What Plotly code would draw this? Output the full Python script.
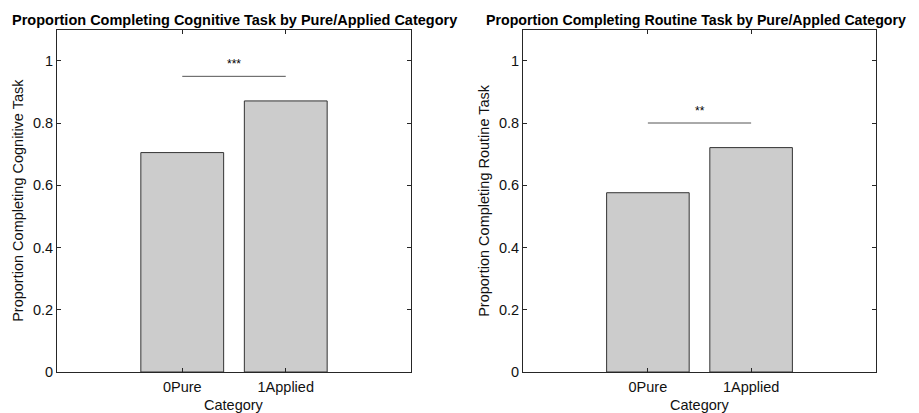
import plotly.graph_objects as go

categories = ["0Pure", "1Applied"]
cognitive = [0.705, 0.871]
routine = [0.576, 0.721]
sig_cog = "***"
sig_rout = "**"
sig_y_cog = 0.95
sig_y_rout = 0.80
yticks = [0, 0.2, 0.4, 0.6, 0.8, 1.0]
yticklabels = ["0", "0.2", "0.4", "0.6", "0.8", "1"]

FONT = "Liberation Sans, Arial, Helvetica, sans-serif"
AX = "#262626"
FS = 14.5
# page body keeps its default 8px margin; the capture is slightly taller than the window
OFF = 8
SY = 421 / 413
W, H = 919 - OFF, 413


def px(x):
    return (x - OFF) / W


def py(y):
    return 1 - (y * SY - OFF) / H


fig = go.Figure()
for i, vals in enumerate([cognitive, routine]):
    fig.add_trace(go.Bar(
        x=categories, y=vals, width=0.8,
        marker=dict(color="#cccccc", line=dict(color="#333333", width=1)),
        xaxis="x" if i == 0 else "x2", yaxis="y" if i == 0 else "y2",
        showlegend=False, hoverinfo="skip"))

xd = [[px(57), px(411)], [px(523), px(876)]]
yd = [py(372), py(29.5)]

common_x = dict(type="category", range=[-1.21, 2.21], showline=True, mirror="ticks",
                linecolor=AX, linewidth=1, ticks="inside", ticklen=4, tickcolor=AX,
                showgrid=False, zeroline=False, tickfont=dict(family=FONT, size=FS, color="#111"),
                ticklabelstandoff=2,
                categoryorder="array", categoryarray=categories)
common_y = dict(range=[0, 1.1], showline=True, mirror="ticks", linecolor=AX, linewidth=1,
                ticks="inside", ticklen=4, tickcolor=AX, showgrid=False, zeroline=False,
                tickvals=yticks, ticktext=yticklabels,
                tickfont=dict(family=FONT, size=FS, color="#111"))

fig.update_layout(
    width=W, height=H, margin=dict(l=0, r=0, t=0, b=0),
    paper_bgcolor="white", plot_bgcolor="white",
    xaxis=dict(domain=xd[0], anchor="y", **common_x),
    yaxis=dict(domain=yd, anchor="x", **common_y),
    xaxis2=dict(domain=xd[1], anchor="y2", **common_x),
    yaxis2=dict(domain=yd, anchor="x2", **common_y),
    bargap=0.2,
)

titles = ["Proportion Completing Cognitive Task by Pure/Applied Category",
          "Proportion Completing Routine Task by Pure/Appled Category"]
title_x = [px(234), px(696)]
title_fs = [FS, 14.2]
ytitles = ["Proportion Completing Cognitive Task", "Proportion Completing Routine Task"]
ytx = [px(18), px(484)]
ann = []
for i in range(2):
    cx = (xd[i][0] + xd[i][1]) / 2
    ann.append(dict(text="<b>" + titles[i] + "</b>", x=title_x[i], y=py(19.5), xref="paper",
                    yref="paper", showarrow=False,
                    font=dict(family=FONT, size=title_fs[i], color="black"),
                    xanchor="center", yanchor="middle"))
    ann.append(dict(text=ytitles[i], x=ytx[i], y=(yd[0] + yd[1]) / 2, xref="paper", yref="paper",
                    textangle=-90, showarrow=False, font=dict(family=FONT, size=FS, color="#111"),
                    xanchor="center", yanchor="middle"))
    ann.append(dict(text="Category", x=cx, y=py(405), xref="paper", yref="paper",
                    showarrow=False, font=dict(family=FONT, size=FS, color="#111"),
                    xanchor="center", yanchor="middle"))

for i, (sy, st) in enumerate([(sig_y_cog, sig_cog), (sig_y_rout, sig_rout)]):
    xr = "x" if i == 0 else "x2"
    yr = "y" if i == 0 else "y2"
    fig.add_shape(type="line", xref=xr, yref=yr, x0=0, x1=1, y0=sy, y1=sy,
                  line=dict(color="#555555", width=1))
    ann.append(dict(text=st, x=0.5, y=sy, xref=xr, yref=yr, showarrow=False,
                    yanchor="bottom", yshift=3, font=dict(family=FONT, size=12, color="black")))

fig.update_layout(annotations=ann)
fig.write_html("out.html", config={"displayModeBar": False})
